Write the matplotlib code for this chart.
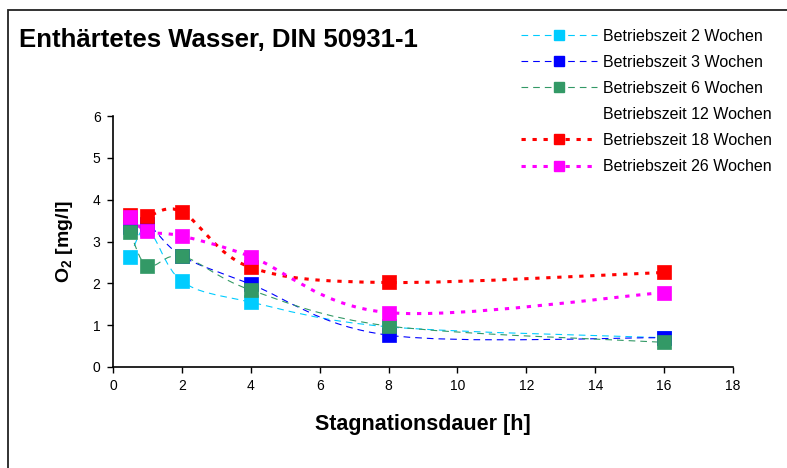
import numpy as np
import matplotlib
matplotlib.use("Agg")
import matplotlib.pyplot as plt
from matplotlib.path import Path
from matplotlib.patches import PathPatch, Rectangle
from matplotlib.lines import Line2D

plt.rcParams['font.family'] = ['Liberation Sans', 'DejaVu Sans']
plt.rcParams['mathtext.fontset'] = 'custom'
plt.rcParams['mathtext.rm'] = 'Liberation Sans'
plt.rcParams['mathtext.bf'] = 'Liberation Sans:bold'

# Stagnation times [h]
stagnation = [0.5, 1, 2, 4, 8, 16]

# Dissolved oxygen [mg/l] per operating time
o2_2w = [2.63, 3.30, 2.05, 1.55, 0.96, 0.70]
o2_3w = [3.35, 3.42, 2.65, 1.98, 0.76, 0.70]
o2_6w = [3.23, 2.41, 2.65, 1.84, 0.98, 0.59]
o2_12w = []
o2_18w = [3.63, 3.61, 3.71, 2.38, 2.02, 2.26]
o2_26w = [3.58, 3.24, 3.13, 2.64, 1.30, 1.78]

labels = ["Betriebszeit 2 Wochen", "Betriebszeit 3 Wochen", "Betriebszeit 6 Wochen",
          "Betriebszeit 12 Wochen", "Betriebszeit 18 Wochen", "Betriebszeit 26 Wochen"]
series = [o2_2w, o2_3w, o2_6w, o2_12w, o2_18w, o2_26w]
colors = ["#00CCFF", "#0000FF", "#339966", None, "#FF0000", "#FF00FF"]
widths = [0.8, 0.8, 0.8, 0, 2.2, 2.2]
dashes = [(6, 4.5), (6, 4.5), (6, 4.5), None, (1.4, 2.2), (1.4, 2.2)]

title = "Enthärtetes Wasser, DIN 50931-1"
xticks = [0, 2, 4, 6, 8, 10, 12, 14, 16, 18]
yticks = [0, 1, 2, 3, 4, 5, 6]


def smooth_path(xs, ys, t=1.0 / 6.0):
    """Cubic Bezier spline through the points (spreadsheet-style smoothing)."""
    pts = np.column_stack([xs, ys]).astype(float)
    n = len(pts)
    verts = [pts[0]]
    codes = [Path.MOVETO]
    for i in range(n - 1):
        p_prev = pts[i - 1] if i > 0 else pts[i]
        p0 = pts[i]
        p1 = pts[i + 1]
        p_next = pts[i + 2] if i + 2 < n else pts[i + 1]
        c1 = p0 + (p1 - p_prev) * t
        c2 = p1 - (p_next - p0) * t
        verts += [c1, c2, p1]
        codes += [Path.CURVE4] * 3
    return Path(verts, codes)


fig = plt.figure(figsize=(7.87, 4.68), dpi=100)
ax = fig.add_axes([113 / 787, 101 / 468, 620 / 787, 251 / 468])

handles = []
for vals, lab, col, lw, ds in zip(series, labels, colors, widths, dashes):
    if not vals:
        handles.append(Line2D([], [], linestyle='none', marker='none', label=lab))
        continue
    patch = PathPatch(smooth_path(stagnation, vals), facecolor='none', edgecolor=col,
                      linewidth=lw, linestyle=(0, ds), capstyle='butt', zorder=2)
    ax.add_patch(patch)
    ax.plot(stagnation, vals, linestyle='none', marker='s', markersize=10,
            markerfacecolor=col, markeredgecolor=col, markeredgewidth=0.5, zorder=3)
    handles.append(Line2D([], [], color=col, linewidth=lw, dashes=ds, marker='s',
                          markersize=7, markerfacecolor=col, markeredgecolor=col,
                          label=lab))

ax.set_xlim(0, 18)
ax.set_ylim(0, 6)
ax.set_xticks(xticks)
ax.set_yticks(yticks)
ax.tick_params(axis='both', direction='out', length=4, width=1, labelsize=10,
               colors='black', pad=5)
for side in ('top', 'right'):
    ax.spines[side].set_visible(False)
for side in ('left', 'bottom'):
    ax.spines[side].set_linewidth(1.2)
ax.set_xlabel("Stagnationsdauer [h]", fontsize=15.5, fontweight='bold', labelpad=15)
ax.set_ylabel(r"O$_\mathbf{2}$ [mg/l]", fontsize=14, fontweight='bold', labelpad=13)

fig.text(19 / 787, 1 - 40 / 468, title, fontsize=18.5, fontweight='bold',
         va='center', ha='left')

fig.legend(handles=handles, loc='upper left', bbox_to_anchor=(521 / 787, 1 - 29 / 468),
           frameon=False, fontsize=11.5, handlelength=4.75, handletextpad=0.37,
           labelspacing=0.69, borderaxespad=0, borderpad=0)

# Chart frame
fig.patches.append(Rectangle((8 / 787, -0.1), 1.2, (1 - 10 / 468) + 0.1,
                             transform=fig.transFigure, fill=False,
                             edgecolor='#222222', linewidth=1.3))

fig.savefig("out.png", dpi=100)
